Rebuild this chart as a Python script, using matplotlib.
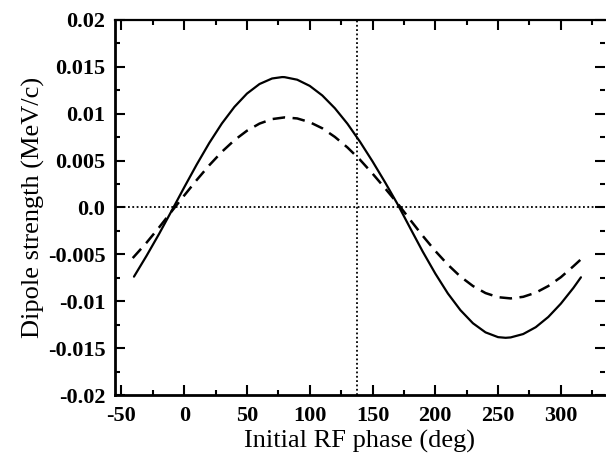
import matplotlib
matplotlib.use("Agg")
import matplotlib.pyplot as plt
from matplotlib.ticker import MultipleLocator, FixedLocator, FixedFormatter

# Valeurs
phase_solid = [-40, -30, -20, -10, 0, 10, 20, 30, 40, 50, 60, 70, 78, 80, 90, 100,
               110, 120, 130, 140, 150, 160, 170, 180, 190, 200, 210, 220, 230, 240,
               250, 256, 260, 270, 280, 290, 300, 310, 316]
dipole_solid = [-0.00738, -0.00516, -0.00282, -0.00036, 0.00214, 0.00458, 0.00688,
                0.00895, 0.01072, 0.01214, 0.01316, 0.01375, 0.01390, 0.01389, 0.01362,
                0.01296, 0.01194, 0.01058, 0.00893, 0.00701, 0.00491, 0.00268, 0.00034,
                -0.00220, -0.00471, -0.00705, -0.00917, -0.01095, -0.01235, -0.01332,
                -0.01383, -0.01390, -0.01386, -0.01350, -0.01277, -0.01168, -0.01026,
                -0.00858, -0.00745]

phase_dash = [-41, -30, -20, -10, 0, 10, 20, 30, 40, 50, 60, 70, 80, 90, 100, 110,
              120, 130, 140, 150, 160, 170, 180, 190, 200, 210, 220, 230, 240, 250,
              260, 270, 280, 290, 300, 310, 316]
dipole_dash = [-0.00540, -0.00376, -0.00213, -0.00042, 0.00127, 0.00293, 0.00450,
               0.00593, 0.00717, 0.00818, 0.00894, 0.00942, 0.00960, 0.00949, 0.00909,
               0.00844, 0.00752, 0.00640, 0.00509, 0.00361, 0.00204, 0.00042, -0.00132,
               -0.00303, -0.00464, -0.00610, -0.00737, -0.00838, -0.00913, -0.00957,
               -0.00970, -0.00953, -0.00909, -0.00838, -0.00744, -0.00627, -0.00553]

phase_marker = 138
xticks = [-50, 0, 50, 100, 150, 200, 250, 300]
yticks = [0.02, 0.015, 0.01, 0.005, 0.0, -0.005, -0.01, -0.015, -0.02]
ytick_labels = ["0.02", "0.015", "0.01", "0.005", "0.0", "-0.005", "-0.01", "-0.015", "-0.02"]

plt.rcParams['font.family'] = ['Liberation Serif', 'DejaVu Serif']
plt.rcParams['axes.unicode_minus'] = False

fig = plt.figure(figsize=(6.06, 4.62), dpi=100, facecolor='white')
ax = fig.add_axes([0.19, 0.145, 0.808, 0.812])

ax.plot(phase_solid, dipole_solid, color='black', lw=1.6, solid_capstyle='round')
ax.plot(phase_dash, dipole_dash, color='black', lw=1.8, dashes=(5, 3))
ax.axhline(0.0, color='black', lw=1.3, ls=(0, (1, 1.4)))
ax.axvline(phase_marker, color='black', lw=1.3, ls=(0, (1, 1.4)))

ax.set_xlim(-55, 335)
ax.set_ylim(-0.02, 0.02)

ax.xaxis.set_major_locator(FixedLocator(xticks))
ax.xaxis.set_minor_locator(MultipleLocator(25))
ax.yaxis.set_major_locator(FixedLocator(yticks))
ax.yaxis.set_major_formatter(FixedFormatter(ytick_labels))
ax.yaxis.set_minor_locator(MultipleLocator(0.0025))

ax.spines['right'].set_visible(False)
for s in ['left', 'bottom']:
    ax.spines[s].set_linewidth(2.0)
ax.spines['top'].set_linewidth(1.6)

ax.tick_params(which='both', direction='in', top=True, right=True, width=1.5)
ax.tick_params(which='major', length=7, labelsize=16)
ax.tick_params(axis='x', which='major', pad=8)
ax.tick_params(axis='y', which='major', pad=7)
ax.tick_params(which='minor', length=3.5)
for lab in ax.get_xticklabels() + ax.get_yticklabels():
    lab.set_fontweight('bold')

ax.set_xlabel("Initial RF phase (deg)", fontsize=19, labelpad=3)
ax.set_ylabel("Dipole strength (MeV/c)", fontsize=19, labelpad=2)

plt.savefig("out.png", dpi=100)
